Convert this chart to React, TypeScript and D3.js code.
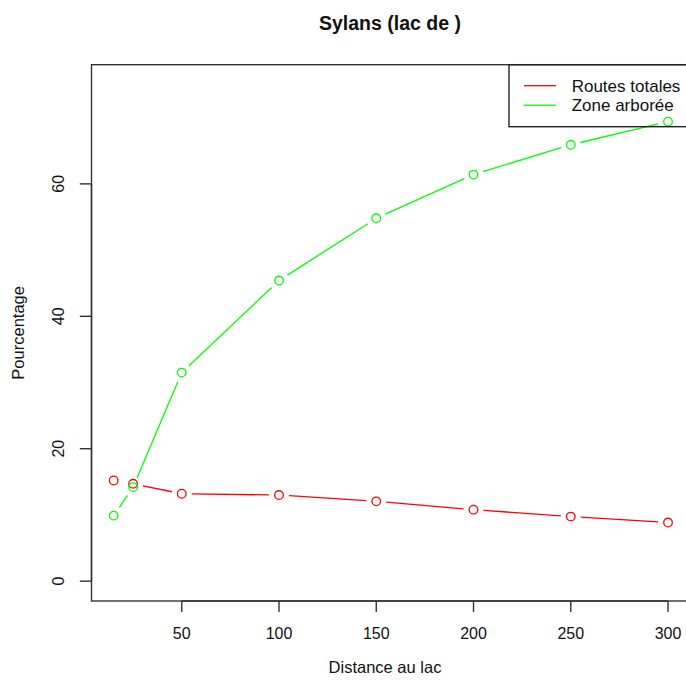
import * as d3 from "d3";
import React, { useRef, useEffect } from "react";

// distances to the lake and the two percentage series
const distances = [15, 25, 50, 100, 150, 200, 250, 300];
const routesTotales = [15.2, 14.7, 13.2, 13.0, 12.05, 10.8, 9.75, 8.85];
const zoneArboree = [9.9, 14.2, 31.5, 45.4, 54.8, 61.4, 65.9, 69.4];
const xTicks = [50, 100, 150, 200, 250, 300];
const yTicks = [0, 20, 40, 60];
const seriesNames = ["Routes totales", "Zone arborée"];
const seriesColors = ["#ff0000", "#00ff00"];

function App() {
  const svgRef = useRef<SVGSVGElement>(null);

  useEffect(() => {
    const svg = d3.select(svgRef.current);
    svg.selectAll("*").remove();

    const width = 686;
    const height = 681;
    // plot region (right edge runs past the picture, as in the original)
    const left = 91.5;
    const right = 690.2;
    const top = 64.7;
    const bottom = 601;
    const font = "'Liberation Sans', Arial, Helvetica, sans-serif";

    // R style limits: range of x extended by 4%, ylim c(0,75) extended by 4%
    const x = d3.scaleLinear().domain([3.6, 311.4]).range([left, right]);
    const y = d3.scaleLinear().domain([-3, 78]).range([bottom, top]);

    svg.attr("width", width).attr("height", height);
    svg.append("rect").attr("width", width).attr("height", height).attr("fill", "white");

    // title
    svg
      .append("text")
      .attr("x", 390)
      .attr("y", 30)
      .attr("text-anchor", "middle")
      .attr("font-family", font)
      .attr("font-weight", "bold")
      .attr("font-size", 19.5)
      .attr("fill", "#111")
      .text("Sylans (lac de )");

    const series = [routesTotales, zoneArboree];
    const gap = 10; // type = "b": gap between line and point

    series.forEach((vals, si) => {
      const g = svg.append("g");
      const pts = distances.map((d, i) => [x(d), y(vals[i])]);
      for (let i = 0; i < pts.length - 1; i++) {
        const [x0, y0] = pts[i];
        const [x1, y1] = pts[i + 1];
        const len = Math.hypot(x1 - x0, y1 - y0);
        if (len <= 2 * gap) continue;
        const ux = (x1 - x0) / len;
        const uy = (y1 - y0) / len;
        g.append("line")
          .attr("x1", x0 + ux * gap)
          .attr("y1", y0 + uy * gap)
          .attr("x2", x1 - ux * gap)
          .attr("y2", y1 - uy * gap)
          .attr("stroke", seriesColors[si])
          .attr("stroke-width", 1.3);
      }
      g.selectAll("circle")
        .data(pts)
        .enter()
        .append("circle")
        .attr("cx", (d) => d[0])
        .attr("cy", (d) => d[1])
        .attr("r", 4.3)
        .attr("fill", "none")
        .attr("stroke", seriesColors[si])
        .attr("stroke-width", 1.3);
    });

    // box
    svg
      .append("rect")
      .attr("x", left)
      .attr("y", top)
      .attr("width", right - left)
      .attr("height", bottom - top)
      .attr("fill", "none")
      .attr("stroke", "#333")
      .attr("stroke-width", 1.4);

    // x axis
    const xa = svg.append("g").attr("transform", `translate(0,${bottom})`);
    xa.append("line")
      .attr("x1", x(50))
      .attr("x2", x(300))
      .attr("stroke", "#333")
      .attr("stroke-width", 1.4);
    xTicks.forEach((t) => {
      xa.append("line")
        .attr("x1", x(t))
        .attr("x2", x(t))
        .attr("y1", 0)
        .attr("y2", 11)
        .attr("stroke", "#333")
        .attr("stroke-width", 1.4);
      xa.append("text")
        .attr("x", x(t))
        .attr("y", 38)
        .attr("text-anchor", "middle")
        .attr("font-family", font)
        .attr("font-size", 16)
        .attr("fill", "#111")
        .text(t);
    });

    // y axis
    const ya = svg.append("g").attr("transform", `translate(${left},0)`);
    ya.append("line")
      .attr("y1", y(0))
      .attr("y2", y(60))
      .attr("stroke", "#333")
      .attr("stroke-width", 1.4);
    yTicks.forEach((t) => {
      ya.append("line")
        .attr("x1", 0)
        .attr("x2", -11.7)
        .attr("y1", y(t))
        .attr("y2", y(t))
        .attr("stroke", "#333")
        .attr("stroke-width", 1.4);
      ya.append("text")
        .attr("transform", `translate(-28,${y(t)}) rotate(-90)`)
        .attr("text-anchor", "middle")
        .attr("font-family", font)
        .attr("font-size", 16)
        .attr("fill", "#111")
        .text(t);
    });

    // axis titles
    svg
      .append("text")
      .attr("x", 385)
      .attr("y", 673)
      .attr("text-anchor", "middle")
      .attr("font-family", font)
      .attr("font-size", 16.5)
      .attr("fill", "#111")
      .text("Distance au lac");
    svg
      .append("text")
      .attr("transform", `translate(24,${(top + bottom) / 2}) rotate(-90)`)
      .attr("text-anchor", "middle")
      .attr("font-family", font)
      .attr("font-size", 16.5)
      .attr("fill", "#111")
      .text("Pourcentage");

    // legend (topright, transparent background)
    const lg = svg.append("g");
    lg.append("rect")
      .attr("x", 509)
      .attr("y", top)
      .attr("width", right - 509)
      .attr("height", 126.7 - top)
      .attr("fill", "none")
      .attr("stroke", "#222")
      .attr("stroke-width", 1.4);
    seriesNames.forEach((name, i) => {
      const ly = 85.7 + i * 19.5;
      lg.append("line")
        .attr("x1", 524)
        .attr("x2", 556)
        .attr("y1", ly)
        .attr("y2", ly)
        .attr("stroke", seriesColors[i])
        .attr("stroke-width", 1.3);
      lg.append("text")
        .attr("x", 571.7)
        .attr("y", ly + 5.8)
        .attr("font-family", font)
        .attr("font-size", 17)
        .attr("fill", "#111")
        .text(name);
    });
  }, []);

  return (
    <div style={{ position: "absolute", left: 0, top: 0 }}>
      <svg ref={svgRef} style={{ display: "block" }} />
    </div>
  );
}

export default App;
